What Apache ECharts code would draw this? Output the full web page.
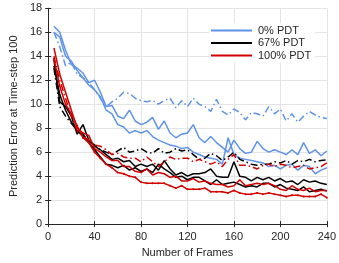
<!DOCTYPE html>
<html><head><meta charset="utf-8">
<script src="https://cdn.jsdelivr.net/npm/echarts@6/dist/echarts.min.js"></script>
<style>html,body{margin:0;padding:0;background:#fff}#c{width:339px;height:263px}</style>
</head><body><div id="c"></div>
<script>
const frames = [5,10,15,20,25,30,35,40,45,50,55,60,65,70,75,80,85,90,95,100,105,110,115,120,125,130,135,140,145,150,155,160,165,170,175,180,185,190,195,200,205,210,215,220,225,230,235,240];
const xTicks = [0,40,80,120,160,200,240];
const yTicks = [0,2,4,6,8,10,12,14,16,18];
const legendNames = ['0% PDT','67% PDT','100% PDT'];

const blueSolidA = [16.5,16.0,14.5,13.3,13.0,12.6,11.8,12.0,11.0,9.8,9.9,9.0,8.8,9.5,8.6,8.3,8.5,8.9,7.9,8.6,7.6,7.2,7.5,7.6,8.3,7.2,6.8,7.3,6.8,6.4,6.0,7.0,6.3,5.9,6.0,6.9,6.3,6.0,6.2,6.0,5.8,6.2,5.8,6.8,5.9,6.2,5.7,6.1];
const blueSolidB = [16.0,15.6,14.0,13.6,12.8,12.2,11.6,11.2,10.6,9.5,9.2,8.3,8.1,7.6,7.8,7.6,7.8,7.3,7.0,6.8,6.6,6.5,6.3,6.4,6.0,5.8,5.6,5.5,5.4,5.0,7.2,5.8,5.5,5.4,5.3,5.2,5.1,4.8,4.9,4.6,4.9,5.0,4.5,4.9,4.8,4.2,4.5,4.7];
const blueDash = [16.0,14.8,13.2,13.5,12.5,12.2,11.8,11.2,10.5,9.8,10.2,10.5,11.0,10.9,10.5,10.3,10.2,10.3,10.0,10.3,10.5,9.7,10.3,9.8,10.5,10.0,9.8,9.4,10.4,9.4,9.1,9.6,9.3,8.7,9.3,9.2,9.0,9.8,9.2,9.6,8.6,9.2,8.5,9.0,9.4,9.1,8.9,8.8];

const blackSolidA = [13.7,10.2,9.8,9.0,7.5,8.3,7.0,6.5,6.2,5.8,5.4,5.5,5.2,5.3,4.8,5.0,4.8,5.0,4.5,5.3,4.6,4.1,4.3,4.0,4.2,4.2,4.3,4.6,4.0,3.9,3.9,5.2,4.0,3.9,3.6,3.9,3.7,3.9,3.6,3.8,3.5,3.6,3.3,3.7,3.5,3.6,3.4,3.3];
const blackSolidB = [13.2,10.8,9.5,8.5,7.8,7.3,6.8,6.2,5.6,5.0,4.9,4.7,4.9,4.5,4.7,4.4,4.6,4.3,5.0,4.6,4.3,3.9,4.0,3.7,3.9,3.9,3.6,3.3,3.7,3.3,3.4,3.5,3.3,3.1,3.2,3.1,3.4,3.4,3.1,3.3,3.0,2.9,2.8,3.1,2.7,2.8,2.9,2.75];
const blackDash = [13.0,9.8,9.0,8.4,7.8,7.5,6.9,6.6,6.2,6.0,5.8,6.1,6.4,6.0,6.1,6.3,6.0,5.9,6.3,5.9,6.0,6.3,6.1,6.2,5.8,5.4,5.5,5.9,5.7,5.3,5.6,6.0,5.4,5.2,5.0,4.9,5.0,5.0,5.2,5.1,5.3,5.0,5.3,5.2,5.4,5.2,5.3,5.35];

const redSolidA = [14.7,12.5,11.0,9.5,8.0,7.6,7.4,6.3,6.0,5.6,5.3,5.3,4.8,4.8,4.4,4.3,4.6,4.1,4.3,4.2,3.9,4.0,3.6,3.6,3.8,3.5,3.6,3.4,3.3,3.3,3.1,3.2,3.7,3.2,3.3,3.4,3.3,3.4,3.2,2.9,2.8,3.2,2.9,2.8,3.0,2.7,2.8,2.8];
const redSolidB = [13.8,11.5,10.0,9.2,8.2,7.2,6.8,6.0,5.5,5.0,4.7,4.3,4.2,4.0,3.9,3.5,3.4,3.4,3.4,3.4,3.2,3.0,3.2,2.9,2.9,2.9,3.0,2.7,2.7,2.7,2.6,2.8,2.6,2.5,2.5,2.6,2.5,2.6,2.5,2.4,2.3,2.4,2.4,2.3,2.3,2.3,2.5,2.2];
const redDash = [14.0,12.0,10.5,9.0,7.8,7.3,7.0,6.6,6.5,6.2,5.8,5.9,5.6,5.5,5.5,5.2,5.6,5.2,4.8,5.2,5.6,5.4,5.5,5.5,5.2,5.4,5.2,5.0,5.2,4.8,5.4,5.8,4.9,4.9,4.8,4.6,4.9,5.0,4.8,5.0,4.9,4.7,4.8,4.9,4.6,4.7,4.8,5.1];

const BLUE = '#5f93e8', BLACK = '#000000', RED = '#d40000';
const DASHDOT = [7, 3, 1.5, 3];

function pts(arr){ return frames.map((f,i)=>[f, arr[i]]); }
function mk(name, arr, color, dash, sym){
  return {
    name: name, type: 'line', data: pts(arr),
    showSymbol: !!sym, symbol: 'circle', symbolSize: sym ? 2 : 0,
    itemStyle: {color: color},
    lineStyle: {color: color, width: 1.5, type: dash ? DASHDOT : 'solid'},
    emphasis: {disabled: true}, animation: false, z: 3
  };
}

const axisCol = '#262626';
const chart = echarts.init(document.getElementById('c'), null, {renderer: 'canvas'});
chart.setOption({
  animation: false,
  backgroundColor: '#fff',
  textStyle: {fontFamily: 'Liberation Sans, Arial, sans-serif'},
  grid: {left: 37.7, right: 11.3, top: 8.3, bottom: 34.7, containLabel: false},
  legend: {
    data: legendNames.map((n,i)=>({name: n, icon: 'rect', itemStyle: {color: [BLUE,BLACK,RED][i]}})),
    orient: 'vertical', left: 209, top: 23, itemWidth: 41, itemHeight: 2, itemGap: 1.5,
    textStyle: {fontSize: 11, color: axisCol, padding: [0,0,0,1]},
    backgroundColor: '#fff', padding: [2, 4, 2, 2], selectedMode: false
  },
  xAxis: [{
    type: 'value', min: 0, max: 240, interval: 40,
    name: 'Number of Frames', nameLocation: 'middle', nameGap: 22,
    nameTextStyle: {fontSize: 11, color: axisCol},
    axisLine: {show: true, lineStyle: {color: axisCol, width: 1}},
    axisTick: {show: true, inside: true, length: 3, lineStyle: {color: axisCol}},
    axisLabel: {fontSize: 11, color: axisCol, margin: 7, formatter: v => xTicks.includes(v) ? String(v) : ''},
    splitLine: {show: true, lineStyle: {color: '#e4e4e4', width: 1}}
  },{
    type: 'value', min: 0, max: 240, interval: 40, position: 'top',
    axisLine: {show: true, lineStyle: {color: axisCol, width: 1}},
    axisTick: {show: true, inside: true, length: 3, lineStyle: {color: axisCol}},
    axisLabel: {show: false}, splitLine: {show: false}
  }],
  yAxis: [{
    type: 'value', min: 0, max: 18, interval: 2,
    name: 'Prediction Error at Time-step 100', nameLocation: 'middle', nameGap: 22,
    nameTextStyle: {fontSize: 11, color: axisCol},
    axisLine: {show: true, lineStyle: {color: axisCol, width: 1}},
    axisTick: {show: true, inside: true, length: 3, lineStyle: {color: axisCol}},
    axisLabel: {fontSize: 11, color: axisCol, margin: 6, formatter: v => yTicks.includes(v) ? String(v) : ''},
    splitLine: {show: true, lineStyle: {color: '#e4e4e4', width: 1}}
  },{
    type: 'value', min: 0, max: 18, interval: 2, position: 'right',
    axisLine: {show: true, lineStyle: {color: axisCol, width: 1}},
    axisTick: {show: true, inside: true, length: 3, lineStyle: {color: axisCol}},
    axisLabel: {show: false}, splitLine: {show: false}
  }],
  series: [
    mk('0% PDT', blueSolidA, BLUE, false),
    mk('blueB', blueSolidB, BLUE, false),
    mk('blueDash', blueDash, BLUE, true),
    mk('67% PDT', blackSolidA, BLACK, false),
    mk('blackB', blackSolidB, BLACK, false),
    mk('blackDash', blackDash, BLACK, true),
    mk('100% PDT', redSolidA, RED, false),
    mk('redB', redSolidB, RED, false, true),
    mk('redDash', redDash, RED, true)
  ]
});
</script></body></html>
